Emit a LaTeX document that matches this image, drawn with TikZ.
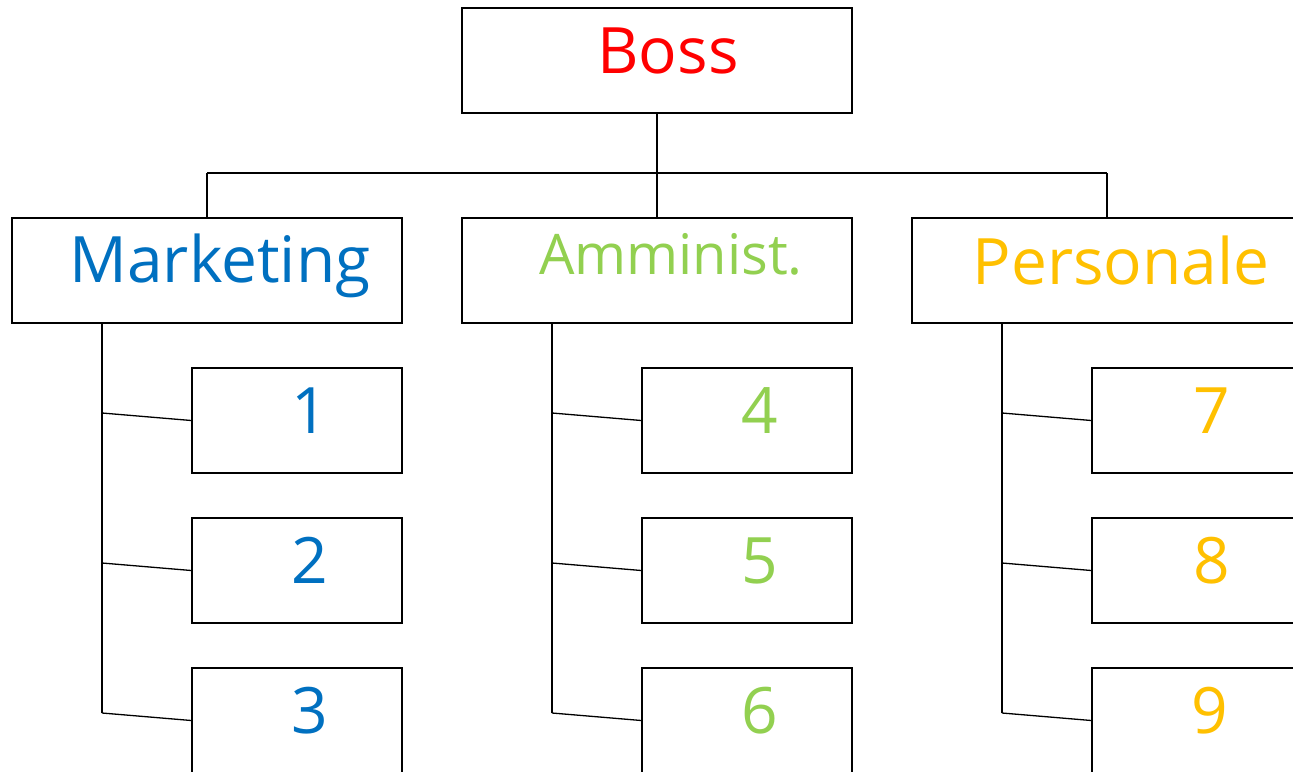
\documentclass[tikz,border=0pt]{standalone}
\usepackage{fontspec}
\setmainfont{Open Sans}
\newfontfamily\lblfont{Open Sans}
\usetikzlibrary{calc}
\definecolor{cboss}{RGB}{255,0,0}
\definecolor{cmkt}{RGB}{0,112,192}
\definecolor{cadm}{RGB}{146,208,80}
\definecolor{cpers}{RGB}{255,192,0}
\begin{document}
\begin{tikzpicture}[x=1pt,y=-1pt,
  box/.style={draw=black,line width=1.6pt,minimum width=390pt,minimum height=105pt,inner sep=0pt,fill=white},
  sbox/.style={draw=black,line width=1.6pt,minimum width=210pt,minimum height=105pt,inner sep=0pt,fill=white},
  lbl/.style={anchor=base,inner sep=0pt,font=\lblfont\fontsize{64}{68}\selectfont},
  slbl/.style={anchor=base,inner sep=0pt,font=\lblfont\fontsize{56}{60}\selectfont},
  conn/.style={line width=1.3pt,black}]
\useasboundingbox (0,0) rectangle (1293,771);
\clip (0,0) rectangle (1293,771);
\coordinate (hub) at (657,173);
\coordinate (hl) at (207,173);
\coordinate (hr) at (1107,173);
\coordinate (mkt-end) at (102,713);
\coordinate (adm-end) at (552,713);
\coordinate (pers-end) at (1002,713);
% boxes
\node[box] (boss) at (657,60.5) {};
\node[box] (mkt) at (207,270.5) {};
\node[box] (adm) at (657,270.5) {};
\node[box] (pers) at (1107,270.5) {};
\node[sbox] (s1) at (297,420.5) {};
\node[sbox] (s2) at (297,570.5) {};
\node[sbox] (s3) at (297,720.5) {};
\node[sbox] (s4) at (747,420.5) {};
\node[sbox] (s5) at (747,570.5) {};
\node[sbox] (s6) at (747,720.5) {};
\node[sbox] (s7) at (1197,420.5) {};
\node[sbox] (s8) at (1197,570.5) {};
\node[sbox] (s9) at (1197,720.5) {};
% connectors
\draw[conn] (boss.south) -- (hub);
\draw[conn] (hl) -- (hr);
\draw[conn] (hl) -- (mkt.north);
\draw[conn] (hub) -- (adm.north);
\draw[conn] (hr) -- (pers.north);
\draw[conn] (mkt.south -| mkt-end) -- (mkt-end);
\draw[conn] (adm.south -| adm-end) -- (adm-end);
\draw[conn] (pers.south -| pers-end) -- (pers-end);
\foreach \s/\e in {s1/mkt,s2/mkt,s3/mkt,s4/adm,s5/adm,s6/adm,s7/pers,s8/pers,s9/pers}{
  \draw[conn] ($(\s.west -| \e-end)+(0,-7.5)$) -- (\s.west);
}
% labels
\node[lbl,text=cboss] (tboss) at (668,73) {Boss};
\node[lbl,text=cmkt] (tmkt) at (220,282) {Marketing};
\node[slbl,text=cadm] (tadm) at (671,274) {Amminist.};
\node[lbl,text=cpers] (tpers) at (1121,284) {Personale};
\node[lbl,text=cmkt] (t1) at (310,433) {1};
\node[lbl,text=cmkt] (t2) at (310,583) {2};
\node[lbl,text=cmkt] (t3) at (310,733) {3};
\node[lbl,text=cadm] (t4) at (760,433) {4};
\node[lbl,text=cadm] (t5) at (760,583) {5};
\node[lbl,text=cadm] (t6) at (760,733) {6};
\node[lbl,text=cpers] (t7) at (1212,433) {7};
\node[lbl,text=cpers] (t8) at (1212,583) {8};
\node[lbl,text=cpers] (t9) at (1210,733) {9};
\end{tikzpicture}
\end{document}
